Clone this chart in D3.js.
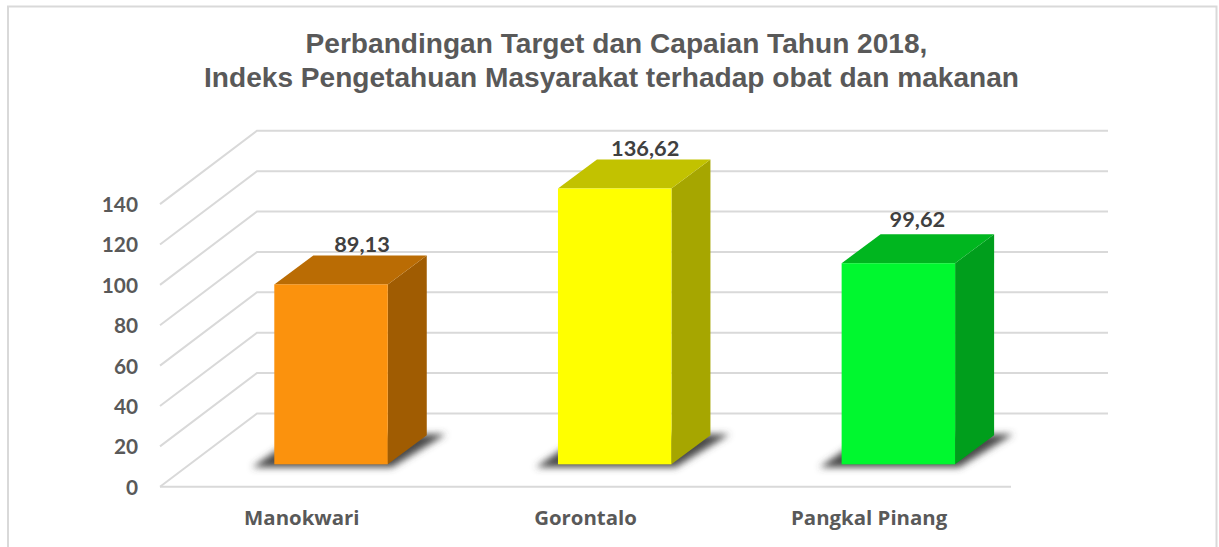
<!DOCTYPE html>
<html><head><meta charset="utf-8">
<script src="https://cdn.jsdelivr.net/npm/d3@7/dist/d3.min.js"></script>
<style>html,body{margin:0;padding:0;background:#fff;overflow:hidden}svg{display:block}</style>
</head><body><svg id="c" width="1219" height="547"></svg>
<script>
const titleLines = ["Perbandingan Target dan Capaian Tahun 2018,", "Indeks Pengetahuan Masyarakat terhadap obat dan makanan"];
const categories = ["Manokwari", "Gorontalo", "Pangkal Pinang"];
const values = [89.13, 136.62, 99.62];
const valueLabels = ["89,13", "136,62", "99,62"];
const tickValues = [0, 20, 40, 60, 80, 100, 120, 140];
const frontColors = ["#FB920D", "#FFFF00", "#00F82F"];
const topColors = ["#BA6C04", "#C2C200", "#00B61F"];
const sideColors = ["#A05C02", "#A6A600", "#009E1C"];

const svg = d3.select("#c");
const defs = svg.append("defs");
defs.append("filter").attr("id", "blur").attr("x", "-20%").attr("y", "-40%").attr("width", "140%").attr("height", "180%")
  .append("feGaussianBlur").attr("stdDeviation", 3.5);

const left = 160, right = 1011, floorFront = 486.7;
const wallDx = 97, wallDy = 73.3;
const x = d3.scaleBand().domain(categories).range([left, right]).paddingInner(0.6).paddingOuter(0.3);
const labelX = d3.scaleBand().domain(categories).range([left, right]);
const y = d3.scaleLinear().domain([0, 140]).range([floorFront, floorFront - 282.6]);
const barDx = 29.2, barDy = 22.4, depthX = 39, depthY = 29;
const gridColor = "#D9D9D9", labelFont = "Lato, sans-serif";

svg.append("rect").attr("x", 8).attr("y", 6.5).attr("width", 1208.5).attr("height", 600)
  .attr("fill", "none").attr("stroke", gridColor).attr("stroke-width", 2);

const titleCenters = [616.5, 611.5];
svg.append("g").attr("text-anchor", "middle").attr("font-family", "Liberation Sans, Arial, sans-serif")
  .attr("font-weight", 700).attr("font-size", 28.1).attr("fill", "#595959")
  .selectAll("text").data(titleLines).join("text")
  .attr("x", (d, i) => titleCenters[i]).attr("y", (d, i) => 52.5 + i * 34).text(d => d);

const grid = svg.append("g").attr("fill", "none").attr("stroke", gridColor).attr("stroke-width", 2);
grid.selectAll("path").data(tickValues).join("path")
  .attr("d", d => `M${left},${y(d)}L${left + wallDx},${y(d) - wallDy}H${right + wallDx}`);
grid.append("path").attr("d", `M${left},${y(0)}H${right}`);

svg.append("g").attr("font-family", labelFont).attr("font-weight", 700).attr("font-size", 20.8)
  .attr("fill", "#595959").attr("text-anchor", "end")
  .selectAll("text").data(tickValues).join("text")
  .attr("x", 138).attr("y", d => y(d) + 8).text(d => d);

svg.append("g").attr("font-family", "'Open Sans', sans-serif").attr("font-weight", 700).attr("font-size", 20.4)
  .attr("fill", "#595959").attr("text-anchor", "middle")
  .selectAll("text").data(categories).join("text")
  .attr("x", d => labelX(d) + labelX.bandwidth() / 2).attr("y", 525).text(d => d);

const bars = svg.append("g").selectAll("g").data(categories).join("g");
bars.each(function (c, i) {
  const g = d3.select(this);
  const x0 = x(c) + barDx, x1 = x0 + x.bandwidth();
  const yb = y(0) - barDy, yt = y(values[i]) - barDy;
  g.append("polygon").attr("filter", "url(#blur)").attr("fill", "#484848")
    .attr("points", [[x0 - 22, yb + 3], [x1 + 4, yb + 3], [x1 + 58, yb - 30], [x0 + 26, yb - 30]].join(" "));
  g.append("polygon").attr("fill", sideColors[i])
    .attr("points", [[x1, yt], [x1 + depthX, yt - depthY], [x1 + depthX, yb - depthY], [x1, yb]].join(" "));
  g.append("polygon").attr("fill", topColors[i])
    .attr("points", [[x0, yt], [x0 + depthX, yt - depthY], [x1 + depthX, yt - depthY], [x1, yt]].join(" "));
  g.append("rect").attr("x", x0).attr("y", yt).attr("width", x1 - x0).attr("height", yb - yt).attr("fill", frontColors[i]);
});

const labelLift = [3, 4, 7];
const labelShift = [31, 30.5, 19];
svg.append("g").attr("font-family", labelFont).attr("font-weight", 700).attr("font-size", 21.8)
  .attr("fill", "#404040").attr("text-anchor", "middle")
  .selectAll("text").data(categories).join("text")
  .attr("x", (d, i) => x(d) + barDx + x.bandwidth() / 2 + labelShift[i])
  .attr("y", (d, i) => y(values[i]) - barDy - depthY - labelLift[i])
  .text((d, i) => valueLabels[i]);
</script></body></html>
